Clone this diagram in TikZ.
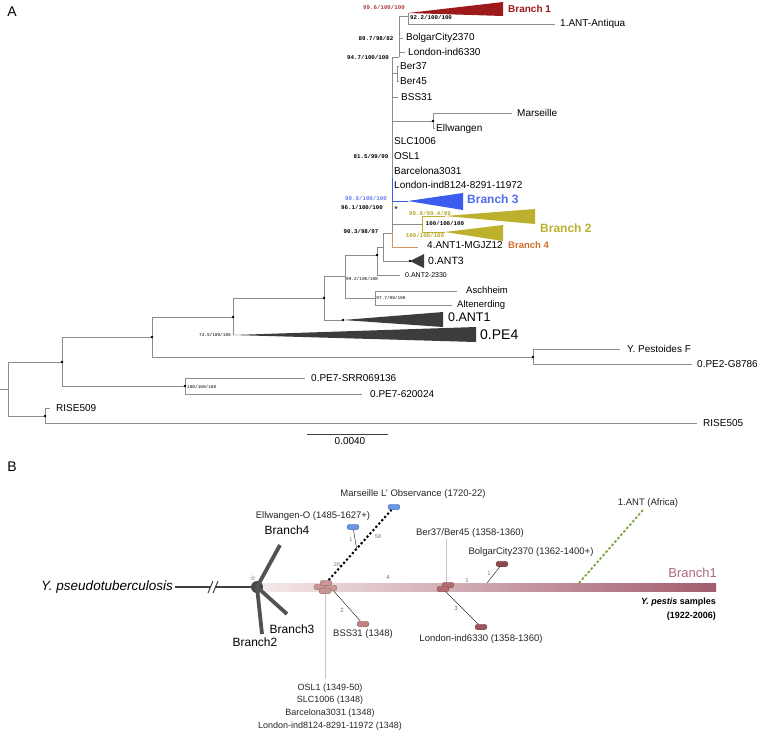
\documentclass[tikz,border=0pt]{standalone}
\usepackage{fontspec}
\setmainfont{Liberation Sans}
\newfontfamily\bsfont{Liberation Mono}
\newfontfamily\symfont{DejaVu Sans}
\usetikzlibrary{calc}
\newcommand{\fsz}[1]{\fontsize{#1}{#1}\selectfont}
\definecolor{treegray}{HTML}{8C8C8C}
\definecolor{bOne}{HTML}{9C1A1A}
\definecolor{bTwo}{HTML}{BDB02C}
\definecolor{bThree}{HTML}{3B5CEE}
\definecolor{bFour}{HTML}{D06E2C}
\definecolor{cladegray}{HTML}{3C3C3C}
\definecolor{mauve}{HTML}{A25C6C}
\definecolor{barL}{HTML}{F5E9EA}
\definecolor{podA}{HTML}{C99595}
\definecolor{podS}{HTML}{BE8585}
\definecolor{podB}{HTML}{B36C6E}
\definecolor{podL}{HTML}{9E5560}
\definecolor{podC}{HTML}{8E4650}
\definecolor{podBlue}{HTML}{6A98E4}
\definecolor{antgreen}{HTML}{7BA443}
\begin{document}
\begin{tikzpicture}[x=1pt, y=-1pt,
  tline/.style={draw=treegray, line width=0.8pt},
  leaf/.style={anchor=west, inner sep=0, font=\fsz{10}},
  boot/.style={inner sep=0, font=\bsfont\bfseries\fsz{5.8}},
  minboot/.style={inner sep=0, font=\bsfont\fsz{4.4}},
  pill/.style={draw=#1!75!black, fill=#1, rounded corners=2.7pt, minimum width=12pt,
    minimum height=5.5pt, inner sep=0, line width=0.4pt},
  lbl/.style={inner sep=0, font=\fsz{9.5}, text=black!85},
  mut/.style={inner sep=0, font=\fsz{6}, text=black!55},
  arm/.style={line width=3.8pt, draw=black!68},
  link/.style={draw=black!80, line width=0.5pt}]
  \fill[white] (0,0) rectangle (757,732);
  \useasboundingbox (0,0) rectangle (757,732);
  % Panel A: ML tree, collapsed clades drawn as wedges
  \node[font=\fsz{14}] (panA) at (12,12) {A};
  \coordinate (rootStub) at (0,389);
  \coordinate (nRoot) at (8,389);
  \coordinate (nX) at (62,362);
  \coordinate (nRise) at (45,416);
  \coordinate (nW) at (152,337);
  \coordinate (nPE7) at (185,386);
  \coordinate (nV) at (233,317);
  \coordinate (nYP) at (533,357);
  \coordinate (nT) at (324,298);
  \coordinate (pe4Tip) at (233,335);
  \coordinate (nR) at (345,276);
  \coordinate (ant1Tip) at (343,320);
  \coordinate (nQ) at (377,255);
  \coordinate (nS) at (375,298);
  \coordinate (nP) at (383,247);
  \coordinate (ant2End) at (400,275);
  \coordinate (nB) at (392,233);
  \coordinate (ant3Tip) at (410,261);
  \coordinate (n94) at (399,57);
  \coordinate (n92) at (408,16);
  \coordinate (b1Tip) at (408,13);
  \coordinate (antiqEnd) at (555,24);
  \coordinate (bolgEnd) at (403,38);
  \coordinate (lon63End) at (405,52);
  \coordinate (nBer) at (397,73);
  \coordinate (ber37End) at (399,66);
  \coordinate (ber45End) at (399,81);
  \coordinate (bssEnd) at (398,97);
  \coordinate (nMar) at (433,121);
  \coordinate (marEnd) at (512,113);
  \coordinate (ellEnd) at (435,128);
  \coordinate (b3Top) at (392,178);
  \coordinate (b3Tip) at (408,201);
  \coordinate (n100) at (422,224);
  \coordinate (b2aTip) at (445,216);
  \coordinate (b2bTip) at (445,232);
  \coordinate (b4End) at (418,247);
  \coordinate (schEnd) at (457,291);
  \coordinate (altEnd) at (452,305);
  \coordinate (ypfEnd) at (620,349);
  \coordinate (pe2End) at (692,364);
  \coordinate (pe7aEnd) at (305,378);
  \coordinate (pe7bEnd) at (362,394);
  \coordinate (r509End) at (50,408);
  \coordinate (r505End) at (697,423);
  % branches (vertical first, then across)
  \draw[tline] (rootStub) -- (nRoot);
  \draw[tline] (nRoot) |- (nX) (nRoot) |- (nRise);
  \draw[tline] (nRise) |- (r509End) (nRise) |- (r505End);
  \draw[tline] (nX) |- (nW) (nX) |- (nPE7);
  \draw[tline] (nPE7) |- (pe7aEnd) (nPE7) |- (pe7bEnd);
  \draw[tline] (nW) |- (nV) (nW) |- (nYP);
  \draw[tline] (nYP) |- (ypfEnd) (nYP) |- (pe2End);
  \draw[tline] (nV) |- (nT) (nV) -- (pe4Tip);
  \draw[tline] (nT) |- (nR) (nT) |- (ant1Tip);
  \draw[tline] (nR) |- (nQ) (nR) |- (nS);
  \draw[tline] (nS) |- (schEnd) (nS) |- (altEnd);
  \draw[tline] (nQ) |- (nP) (nQ) |- (ant2End);
  \draw[tline] (nP) |- (nB) (nP) |- (ant3Tip);
  \draw[tline] (nB) |- (n94) (nB) |- (nBer) (nB) |- (bssEnd) (nB) |- (nMar)
    (nB) |- (b3Tip) (nB) |- (n100);
  \draw[tline] (n94) |- (n92) (n94) |- (bolgEnd) (n94) |- (lon63End);
  \draw[tline] (n92) -- (b1Tip) (n92) |- (antiqEnd);
  \draw[tline] (nBer) |- (ber37End) (nBer) |- (ber45End);
  \draw[tline] (nMar) |- (marEnd) (nMar) |- (ellEnd);
  \draw[tline, draw=bThree] (b3Top) |- (b3Tip);
  \draw[tline, draw=bTwo] (n100) |- (b2aTip) (n100) |- (b2bTip);
  \draw[tline, draw=bFour!75] (nB) |- (b4End);
  % collapsed clades
  \fill[bOne] (b1Tip) -- (503,2) -- (503,16) -- cycle;
  \fill[bThree] (b3Tip) -- (463,193) -- (463,210) -- cycle;
  \fill[bTwo] (b2aTip) -- (535,209) -- (535,224) -- cycle;
  \fill[bTwo] (b2bTip) -- (503,225) -- (503,241) -- cycle;
  \fill[cladegray] (ant3Tip) -- (424,254) -- (424,268) -- cycle;
  \fill[cladegray] (ant1Tip) -- (443,312) -- (443,327) -- cycle;
  \fill[cladegray] (pe4Tip) -- (476,327) -- (476,342) -- cycle;
  \foreach \n in {nRise,nX,nW,nPE7,nV,nYP,nT,ant1Tip,nQ,nMar,ant3Tip}
    \fill (\n) circle (1.3pt);
  % tip labels
  \node[leaf, font=\bfseries\fsz{10}, text=bOne] (lB1) at (508,9) {Branch 1};
  \node[leaf] (lAntiq) at (560,24) {1.ANT-Antiqua};
  \node[leaf] (lBolg) at (406,38) {BolgarCity2370};
  \node[leaf] (lLon63) at (408,52) {London-ind6330};
  \node[leaf] (lBer37) at (400,66) {Ber37};
  \node[leaf] (lBer45) at (400,81) {Ber45};
  \node[leaf] (lBss) at (401,97) {BSS31};
  \node[leaf] (lMar) at (517,113) {Marseille};
  \node[leaf] (lEll) at (436,129) {Ellwangen};
  \node[leaf] (lSlc) at (394,141) {SLC1006};
  \node[leaf] (lOsl) at (394,156) {OSL1};
  \node[leaf] (lBarc) at (394,171) {Barcelona3031};
  \node[leaf] (lLon81) at (394,185) {London-ind8124-8291-11972};
  \node[leaf, font=\bfseries\fsz{12}, text=bThree!90] (lB3) at (467,199) {Branch 3};
  \node[leaf, font=\bfseries\fsz{12}, text=bTwo] (lB2) at (540,228) {Branch 2};
  \node[leaf] (lAnt4) at (427,245) {4.ANT1-MGJZ12};
  \node[leaf, font=\bfseries\fsz{9.5}, text=bFour] (lB4) at (508,245) {Branch 4};
  \node[leaf, font=\fsz{10.5}] (lAnt3) at (428,261) {0.ANT3};
  \node[leaf, font=\fsz{7}] (lAnt2) at (405,275) {0.ANT2-2330};
  \node[leaf, font=\fsz{9.5}] (lSch) at (466,290) {Aschheim};
  \node[leaf, font=\fsz{9.5}] (lAlt) at (457,305) {Altenerding};
  \node[leaf, font=\fsz{12.5}] (lAnt1) at (448,317) {0.ANT1};
  \node[leaf, font=\fsz{14}] (lPe4) at (480,335) {0.PE4};
  \node[leaf] (lYpf) at (627,349) {Y. Pestoides F};
  \node[leaf] (lPe2) at (697,364) {0.PE2-G8786};
  \node[leaf] (lPe7a) at (311,378) {0.PE7-SRR069136};
  \node[leaf] (lPe7b) at (370,394) {0.PE7-620024};
  \node[leaf] (lR509) at (56,408) {RISE509};
  \node[leaf] (lR505) at (703,423) {RISE505};
  % support values
  \node[boot, text=bOne!85] (s996) at (384,7) {99.6/100/100};
  \node[boot, anchor=west] (s922) at (410,17.5) {92.2/100/100};
  \node[boot] (s897) at (376,38) {89.7/98/82};
  \node[boot] (s947) at (368,57) {94.7/100/100};
  \node[boot] (s815) at (371,156) {81.5/99/99};
  \node[boot, text=bThree!80] (s999) at (366,198) {99.9/100/100};
  \node[boot] (s961) at (362,207) {96.1/100/100};
  \node[inner sep=0, font=\fsz{9}] (ast) at (396,209) {*};
  \node[boot, text=bTwo!95!black] (s998) at (430,213) {99.8/99.4/99};
  \node[boot] (s100a) at (445,223) {100/100/100};
  \node[boot, text=bTwo!95!black] (s100b) at (425,235) {100/100/100};
  \node[boot] (s903) at (361,231) {90.3/98/97};
  \node[minboot] (s992) at (362,279) {99.2/100/100};
  \node[minboot] (s977) at (391,298) {97.7/98/100};
  \node[minboot, anchor=east] (s745) at (231,335) {74.5/100/100};
  \node[minboot, anchor=west] (s100c) at (187,387) {100/100/100};
  % scale bar
  \coordinate (sbL) at (307,434);
  \coordinate (sbR) at (388,434);
  \draw[black!75, line width=0.7pt] (sbL) -- (sbR);
  \node[inner sep=0, font=\fsz{10}] (sbTxt) at (350,441) {0.0040};

  % Panel B: sample network along Branch 1
  \node[font=\fsz{14}] (panB) at (12,467) {B};
  \shade[left color=barL, right color=mauve] (262,583) rectangle (716,591);
  \node[inner sep=0, anchor=east, font=\itshape\fsz{13.5}] (pseudo) at (173,587) {Y. pseudotuberculosis};
  \coordinate (brkL) at (210,587);
  \coordinate (brkR) at (215,587);
  \coordinate (arm4) at (280,545);
  \coordinate (arm3) at (287,614);
  \coordinate (arm2) at (262,634);
  \node[circle, fill=black!72, inner sep=0, minimum size=12pt] (hub) at (257,587) {};
  \draw[line width=1.3pt, black!75, shorten <=2pt] (pseudo) -- (brkL);
  \draw[line width=1.3pt, black!75] (brkR) -- (hub);
  \draw[line width=1pt, black!75] (208,593) -- (213,581) (213,593) -- (218,581);
  \draw[arm] (hub.center) -- (arm4);
  \draw[arm] (hub.center) -- (arm3);
  \draw[arm] (hub.center) -- (arm2);
  \node[inner sep=0, font=\symfont\fsz{6.5}] (star) at (253,578) {☆};
  \node[inner sep=0, font=\fsz{12}] (lArm4) at (287,530) {Branch4};
  \node[inner sep=0, font=\fsz{12}] (lArm3) at (292,629) {Branch3};
  \node[inner sep=0, font=\fsz{12}] (lArm2) at (255,642) {Branch2};
  % connector ends
  \coordinate (osEnd) at (325,679);
  \coordinate (berEnd) at (446,539);
  \coordinate (bolgJ) at (487,583);
  \coordinate (antJ) at (579,583);
  % 1348 cluster and later samples
  \draw[gray!45, line width=0.6pt] (325,591) -- (osEnd);
  \draw[gray!45, line width=0.6pt] (446,585) -- (berEnd);
  \node[pill=podA] (c1b) at (320,587) {};
  \node[pill=podA] (c1a) at (326,583) {};
  \node[pill=podA] (c1c) at (331,588) {};
  \node[pill=podA] (c1d) at (325,591) {};
  \node[pill=podB] (c2a) at (448,585) {};
  \node[pill=podB] (c2b) at (443,589) {};
  \node[pill=podBlue] (mars) at (394,507) {};
  \node[pill=podBlue] (ellw) at (353,527) {};
  \node[pill=podS] (bss) at (363,624) {};
  \node[pill=podL] (lon63) at (481,627) {};
  \node[pill=podC] (bolg) at (502,564) {};
  \coordinate (ellJ) at ($(c1a)!0.45!(mars)$);
  \draw[line width=2pt, dash pattern=on 2.2pt off 2.2pt] (c1a) -- (mars);
  \draw[link] (ellw) -- (ellJ);
  \draw[link] (c1c) -- (bss);
  \draw[link] (c2b) -- (lon63);
  \draw[link] (bolgJ) -- (bolg);
  \draw[antgreen, line width=1.8pt, dash pattern=on 2.5pt off 2pt] (antJ) -- (643,510);
  % mutation counts
  \node[mut, font=\fsz{5.5}] (m26) at (337,565) {26};
  \node[mut, font=\fsz{5.5}] (m1e) at (351,540) {1};
  \node[mut, font=\fsz{5.5}] (m58) at (378,537) {58};
  \node[mut] (m4) at (388,577) {4};
  \node[mut] (m2) at (342,610) {2};
  \node[mut] (m3) at (456,608) {3};
  \node[mut] (m1a) at (467,580) {1};
  \node[mut] (m1b) at (489,573) {1};
  % sample labels
  \node[lbl] (lMars) at (413,494) {Marseille L' Observance (1720-22)};
  \node[lbl] (lEllw) at (313,516) {Ellwangen-O (1485-1627+)};
  \node[lbl] (lBerB) at (470,533) {Ber37/Ber45 (1358-1360)};
  \node[lbl] (lBolgB) at (531,552) {BolgarCity2370 (1362-1400+)};
  \node[lbl] (lAntB) at (648,503) {1.ANT (Africa)};
  \node[lbl] (lBssB) at (363,634) {BSS31 (1348)};
  \node[lbl] (lLonB) at (481,639) {London-ind6330 (1358-1360)};
  \node[lbl, align=center, font=\fontsize{9}{12.7}\selectfont] (lOslB) at (330,707)
    {OSL1 (1349-50)\\SLC1006 (1348)\\Barcelona3031 (1348)\\London-ind8124-8291-11972 (1348)};
  \node[inner sep=0, anchor=east, font=\fsz{13}, text=mauve!90] (lBr1) at (717,573) {Branch1};
  \node[inner sep=0, anchor=east, font=\bfseries\fsz{9}] (lYp) at (716,602) {\itshape Y. pestis\upshape{} samples};
  \node[inner sep=0, anchor=east, font=\bfseries\fsz{9}] (lYpY) at (716,616) {(1922-2006)};
\end{tikzpicture}
\end{document}
